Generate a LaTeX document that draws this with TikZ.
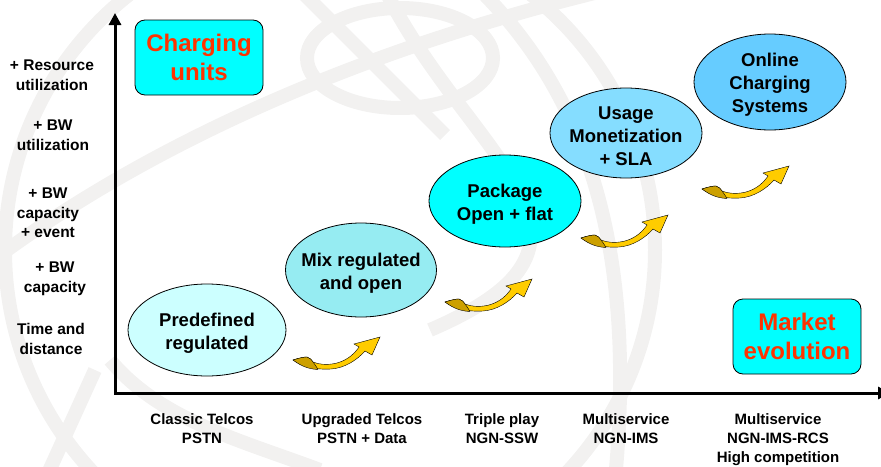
\documentclass[tikz,border=0pt]{standalone}
\usepackage{fontspec}
\setmainfont{Liberation Sans}
\usetikzlibrary{arrows.meta,shapes.geometric}

\definecolor{wmgray}{RGB}{242,241,240}
\definecolor{boxcyan}{RGB}{0,255,255}
\definecolor{redtext}{RGB}{255,51,0}
\definecolor{stageA}{RGB}{204,255,255}
\definecolor{stageB}{RGB}{150,236,242}
\definecolor{stageC}{RGB}{0,255,255}
\definecolor{stageD}{RGB}{133,221,255}
\definecolor{stageE}{RGB}{102,204,255}
\definecolor{curlgold}{RGB}{255,204,0}
\definecolor{curldark}{RGB}{204,160,0}

\tikzset{
  wm/.style={draw=wmgray, line width=14pt},
  stage/.style={ellipse, draw=black, line width=0.8pt, inner sep=0pt},
  stagetext/.style={align=center, yshift=-3pt, font=\fontsize{18.5}{23}\selectfont\bfseries},
  tagbox/.style={rectangle, rounded corners=10pt, draw=black, line width=0.8pt, fill=boxcyan,
    align=center, text=redtext, minimum width=128pt, minimum height=75pt,
    font=\fontsize{24}{29}\selectfont\bfseries},
  ylabel/.style={align=center, font=\fontsize{15.5}{19.5}\selectfont\bfseries},
  xlabel/.style={align=center, anchor=north, inner sep=0pt, font=\fontsize{15}{19}\selectfont\bfseries},
  curl/.style={fill=curlgold, draw=black, line width=0.4pt},
  curltail/.style={fill=curldark, draw=black, line width=0.4pt},
}

\begin{document}
\begin{tikzpicture}[x=1pt, y=-1pt]
\useasboundingbox (0,0) rectangle (881,466);

% faint globe in the background
\begin{scope}
\clip (0,0) rectangle (881,466);
\draw[wm] (330,250) circle (325pt);
\draw[wm] (400,58) ellipse (93pt and 50pt);
\draw[wm] (-20,270) .. controls (150,140) and (380,40) .. (650,-20);
\draw[wm] (480,-10) .. controls (570,80) and (640,220) .. (615,480);
\draw[wm] (385,-10) .. controls (470,160) and (640,240) .. (430,330);
\draw[wm] (300,-10) -- (445,135);
\draw[wm] (110,360) .. controls (160,420) and (240,440) .. (320,470);
\draw[wm] (95,370) -- (45,480);
\end{scope}

% axes
\coordinate (origin) at (115,393);
\coordinate (ytop) at (115,13);
\coordinate (xend) at (890,393);
\draw[line width=3pt, line join=miter, {Triangle[length=12pt,width=12pt]}-{Triangle[length=12pt,width=12pt]}]
  (ytop) -- (origin) -- (xend);

% y axis labels
\node[ylabel] (res) at (52,75) {+ Resource\\utilization};
\node[ylabel] (bwu) at (53,135) {+ BW\\utilization};
\node[ylabel] (bwe) at (48,213) {+ BW\\capacity\\+ event};
\node[ylabel] (bwc) at (55,279) {+ BW\\capacity};
\node[ylabel] (tad) at (51,339) {Time and\\distance};

% x axis labels
\node[xlabel] (classic) at (202,413) {Classic Telcos\\PSTN};
\node[xlabel] (upgr) at (362,413) {Upgraded Telcos\\PSTN + Data};
\node[xlabel] (triple) at (502,413) {Triple play\\NGN-SSW};
\node[xlabel] (ims) at (626,413) {Multiservice\\NGN-IMS};
\node[xlabel] (rcs) at (778,413) {Multiservice\\NGN-IMS-RCS\\High competition};

% corner boxes
\node[tagbox] (units) at (199,57.5) {Charging\\units};
\node[tagbox] (market) at (797,336.5) {Market\\evolution};

% stages
\node[stage, fill=stageA, minimum width=158pt, minimum height=92pt] (predef) at (207,330) {};
\node[stage, fill=stageB, minimum width=151pt, minimum height=94pt] (mix) at (361,270) {};
\node[stage, fill=stageC, minimum width=152pt, minimum height=92pt] (pack) at (505,201) {};
\node[stage, fill=stageD, minimum width=152pt, minimum height=90pt] (usage) at (626,133) {};
\node[stage, fill=stageE, minimum width=152pt, minimum height=96pt] (ocs) at (770,82) {};
\node[stagetext] (predef-t) at (predef) {Predefined\\regulated};
\node[stagetext] (mix-t) at (mix) {Mix regulated\\and open};
\node[stagetext] (pack-t) at (pack) {Package\\Open + flat};
\node[stagetext] (usage-t) at (usage) {Usage\\Monetization\\+ SLA};
\node[stagetext] (ocs-t) at (ocs) {Online\\Charging\\Systems};

% curly arrows between stages
\foreach \ax/\ay in {293/360, 445/302, 581/238, 702/189}{
  \begin{scope}[shift={(\ax,\ay)}]
  \filldraw[curl] (0,0) .. controls (6,-2) and (11,-3) .. (14,-3)
    .. controls (17,-2) and (19,0) .. (20,2)
    .. controls (28,5) and (36,5) .. (44,3)
    .. controls (55,0) and (62,-7) .. (66,-13)
    -- (61,-16) -- (87,-23) -- (79,-5) -- (72,-9)
    .. controls (64,0) and (52,8) .. (38,9)
    .. controls (25,10) and (10,7) .. (0,0) -- cycle;
  \filldraw[curltail] (0,0) .. controls (6,-2) and (11,-3) .. (14,-3)
    .. controls (17,-2) and (19,0) .. (20,2)
    .. controls (22,5) and (24,7) .. (25,9.5)
    .. controls (15,9) and (8,6) .. (0,0) -- cycle;
  \end{scope}
}
\end{tikzpicture}
\end{document}
